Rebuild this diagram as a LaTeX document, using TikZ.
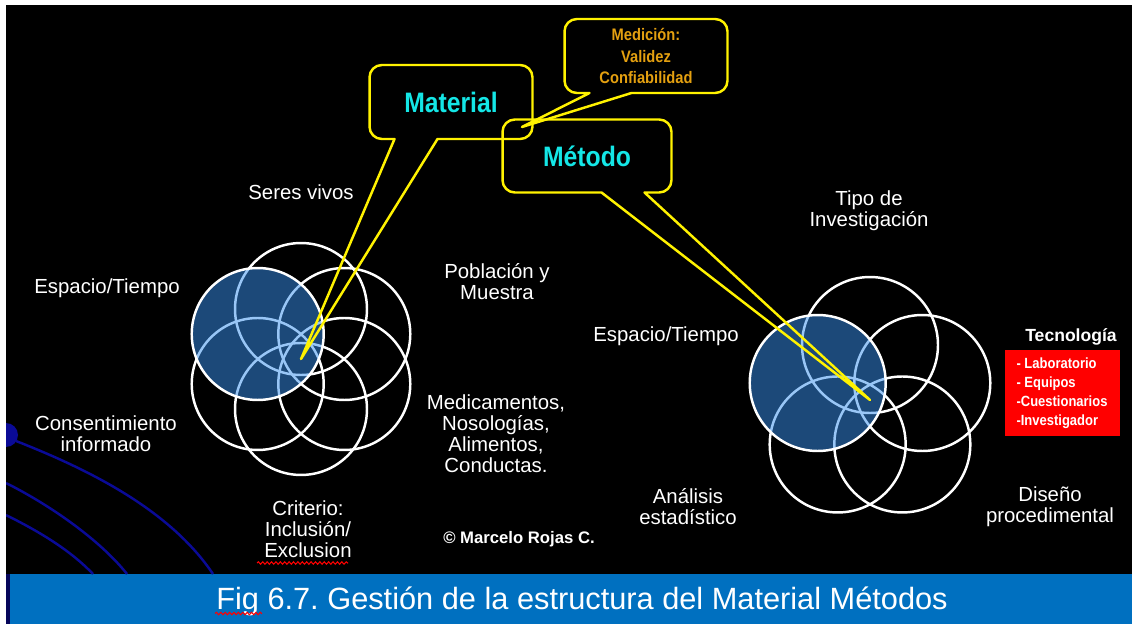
\documentclass[tikz,border=0pt]{standalone}
\usepackage{fontspec}
\setmainfont{Liberation Sans}
\newfontfamily\narrowfont[FakeStretch=0.88]{Liberation Sans}
\usepackage{tikz}
\usetikzlibrary{decorations.pathmorphing}
\definecolor{bar}{RGB}{0,112,192}
\definecolor{venn}{RGB}{55,145,239}
\definecolor{callcyan}{RGB}{20,230,230}
\definecolor{callgold}{RGB}{228,160,16}
\definecolor{swoosh}{RGB}{10,10,150}
\tikzstyle{lbl}=[text=white,align=center,inner sep=0,font=\fontsize{11.6}{12}\selectfont]
\tikzstyle{ring}=[circle,draw=white,inner sep=0,outer sep=0]
\tikzstyle{lit}=[ring,fill=venn,fill opacity=0.51]
\tikzstyle{box}=[inner sep=0,outer sep=0,font=\narrowfont\bfseries\fontsize{16}{16}\selectfont]
\tikzstyle{bubble}=[draw=yellow,line join=round]
\tikzstyle{wavy}=[red,line width=0.6pt,decorate,decoration={snake,amplitude=0.7pt,segment length=2.5pt}]
\tikzset{every picture/.style={
    line width=1.4pt
  }
}

\begin{document}
\begin{tikzpicture}[x=0.02cm,y=-0.02cm]
      \useasboundingbox (0,0) rectangle (1132,624);
      \fill[white] (0,0) rectangle (1132,624);
      \fill[black] (6,5) rectangle (1132,574);
      \fill[bar] (10,574) rectangle (1132,624);
      \fill[swoosh!60!black] (6,574) rectangle (10,624);
      % swooshes at the left edge
      \fill[swoosh] (6,435) circle (12);
      \draw[swoosh] (16,441) .. controls (90,470) and (170,510) .. (213,574);
      \draw[swoosh] (6,483) .. controls (50,505) and (100,540) .. (127,574);
      \draw[swoosh] (6,515) .. controls (40,532) and (70,550) .. (93,574);
      \fill[white] (0,0) rectangle (6,624);
      % material cluster
      \coordinate (lc) at (301,359);
      \foreach \a [count=\i] in {90,30,-30,-90,-150}
        \node[ring,minimum size=2.64cm] at ([shift={(\a:1cm)}]lc) (l\i) {};
      \node[lit,minimum size=2.64cm] at ([shift={(150:1cm)}]lc) (l6) {};
      % metodo cluster
      \coordinate (rc) at (870,400);
      \foreach \a [count=\i] in {90,18,-54,-126}
        \node[ring,minimum size=2.72cm] at ([shift={(\a:1.1cm)}]rc) (r\i) {};
      \node[lit,minimum size=2.72cm] at ([shift={(162:1.1cm)}]rc) (r5) {};
      % labels
      \node[lbl] at (301,192) (seres) {Seres vivos};
      \node[lbl] at (107,288) (esp1) {Espacio/Tiempo};
      \node[lbl] at (497,282) (pob) {Población y\\Muestra};
      \node[lbl] at (106,434) (cons) {Consentimiento\\informado};
      \node[lbl] at (496,434) (medic) {Medicamentos,\\Nosologías,\\Alimentos,\\Conductas.};
      \node[lbl] at (308,529) (crit) {Criterio:\\Inclusión/\\Exclusion};
      \node[lbl,font=\bfseries\fontsize{9.5}{10}\selectfont] at (519,539) (copy) {© Marcelo Rojas C.};
      \node[lbl] at (869,211) (tipo) {Tipo de\\Investigación};
      \node[lbl] at (666,336) (esp2) {Espacio/Tiempo};
      \node[lbl,font=\bfseries\fontsize{10}{10}\selectfont] at (1071,337) (tec) {Tecnología};
      \node[fill=red,minimum width=2.3cm,minimum height=1.74cm,text=white,align=left,inner sep=0,
        font=\narrowfont\bfseries\fontsize{8.4}{10.8}\selectfont] at (1062,393) (lab)
        {- Laboratorio\\- Equipos\\-Cuestionarios\\-Investigador};
      \node[lbl] at (688,507) (ana) {Análisis\\estadístico};
      \node[lbl] at (1050,507) (dis) {Diseño\\procedimental};
      \draw[wavy] (257,563) -- (348,563);
      % callouts
      \coordinate (medtip) at (522,127);
      \node[box,minimum width=3.26cm,minimum height=1.48cm,text=callcyan] at (451,102) (mat) {Material};
      \node[box,minimum width=3.38cm,minimum height=1.46cm,text=callcyan] at (587,156) (met) {Método};
      \node[box,minimum width=3.26cm,minimum height=1.48cm,text=callgold,align=center,
        font=\narrowfont\bfseries\fontsize{9.5}{12.5}\selectfont] at (646,56) (medi) {Medición:\\Validez\\Confiabilidad};
      \draw[bubble] (lc) -- ([xshift=0.5cm]mat.south west) [rounded corners=7pt] -- (mat.south west)
        -- (mat.north west) -- (mat.north east) -- (mat.south east) [sharp corners] -- ([xshift=1.36cm]mat.south west) -- cycle;
      \draw[bubble] (rc) -- ([xshift=1.98cm]met.south west) [rounded corners=7pt] -- (met.south west)
        -- (met.north west) -- (met.north east) -- (met.south east) [sharp corners] -- ([xshift=2.84cm]met.south west) -- cycle;
      \draw[bubble] (medtip) -- ([xshift=0.5cm]medi.south west) [rounded corners=7pt] -- (medi.south west)
        -- (medi.north west) -- (medi.north east) -- (medi.south east) [sharp corners] -- ([xshift=1.34cm]medi.south west) -- cycle;
      % caption bar
      \node[text=white,inner sep=0,font=\fontsize{17.5}{18}\selectfont\frenchspacing] at (582,601) (cap)
        {Fig 6.7. Gestión de la estructura del Material Métodos};
      \draw[wavy] ([yshift=-2.5pt]cap.base west) -- ++(47,0);
    \end{tikzpicture}
\end{document}
